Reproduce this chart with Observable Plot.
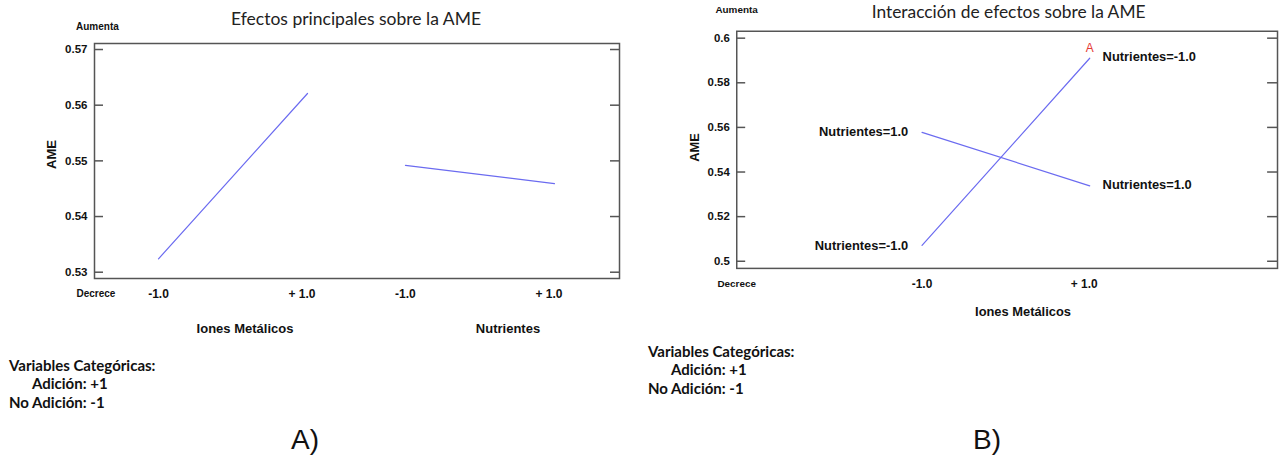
<!DOCTYPE html>
<html><head><meta charset="utf-8">
<script src="https://cdn.jsdelivr.net/npm/d3@7"></script>
<script src="https://cdn.jsdelivr.net/npm/@observablehq/plot@0.6"></script>
<style>
html,body{margin:0;padding:0;background:#fff;overflow:hidden;}
#wrap{position:relative;width:1280px;height:458px;overflow:hidden;background:#fff;}
.panel{position:absolute;top:0;}
.note{position:absolute;font-family:Lato,"Open Sans",sans-serif;font-weight:bold;font-size:15px;line-height:18.7px;color:#111;white-space:pre;}
.note .ind{padding-left:23px;}
.tag{position:absolute;width:100px;text-align:center;font-family:"Liberation Sans",Arial,sans-serif;font-size:28px;line-height:28px;color:#111;}
</style></head><body><div id="wrap"></div>
<script>
// ---- data ----
const factors = ["Iones Metálicos", "Nutrientes"];
const levels = [-1, 1];
const levelLabels = ["-1.0", "+ 1.0"];
const ameIones = [0.5324, 0.5621];
const ameNutrientes = [0.5492, 0.5459];
const interactionSeries = ["Nutrientes=-1.0", "Nutrientes=1.0"];
const ameNutrMinus = [0.5071, 0.5910];
const ameNutrPlus = [0.5578, 0.5338];
const yTicksA = [0.53, 0.54, 0.55, 0.56, 0.57];
const yTicksB = [0.5, 0.52, 0.54, 0.56, 0.58, 0.6];
const titleA = "Efectos principales sobre la AME";
const titleB = "Interacción de efectos sobre la AME";
const yLabel = "AME";
const upLabel = "Aumenta";
const downLabel = "Decrece";
const markerLabel = "A";
const noteLines = ["Variables Categóricas:", "Adición: +1", "No Adición: -1"];
const panelTags = ["A)", "B)"];

// ---- layout / style ----
const SPACING = 3.315;
const LINE = "#6b6bf0";
const FRAME = "#555";
const FONT = '"Liberation Sans", Arial, sans-serif';

// main effects table
const mainData = [];
[ameIones, ameNutrientes].forEach((vals, fi) =>
  levels.forEach((lv, li) => mainData.push({factor: factors[fi], pos: fi * SPACING + lv, level: lv, ame: vals[li]})));
// interaction table
const interData = [];
[ameNutrMinus, ameNutrPlus].forEach((vals, si) =>
  levels.forEach((lv, li) => interData.push({series: interactionSeries[si], level: lv, ame: vals[li]})));

const fmtY = d => String(d);

function yTickMarks(ticks, innerW, rightLen) {
  return [
    Plot.tickY(ticks, {y: d => d, stroke: FRAME, strokeWidth: 1.5, insetRight: innerW - 9}),
    Plot.tickY(ticks, {y: d => d, stroke: FRAME, strokeWidth: 1.5, insetLeft: innerW - rightLen})
  ];
}

// ---- Panel A ----
const A = {w: 640, h: 458, ml: 94, mr: 21, mt: 43, mb: 180};
const plotA = Plot.plot({
  width: A.w, height: A.h,
  marginLeft: A.ml, marginRight: A.mr, marginTop: A.mt, marginBottom: A.mb,
  style: {fontFamily: FONT, fontSize: "12px", color: "#111", background: "transparent", overflow: "visible"},
  x: {domain: [-1.859, 5.188]},
  y: {domain: [0.52887, 0.57108]},
  marks: [
    Plot.frame({stroke: FRAME, strokeWidth: 1.5}),
    ...yTickMarks(yTicksA, A.w - A.ml - A.mr, 9),
    Plot.axisY(yTicksA, {tickSize: 0, tickPadding: 7, tickFormat: fmtY, fontWeight: "bold", fontSize: 11.5, label: null}),
    Plot.axisX(factors.map((f, i) => i * SPACING + levels[0]), {tickSize: 0, tickPadding: 11, tickFormat: () => levelLabels[0], fontWeight: "bold", fontSize: 12, label: null}),
    Plot.axisX(factors.map((f, i) => i * SPACING + levels[1]), {tickSize: 0, tickPadding: 11, tickFormat: () => levelLabels[1], fontWeight: "bold", fontSize: 12, dx: -5.5, label: null}),
    Plot.line(mainData, {x: "pos", y: "ame", z: "factor", stroke: LINE, strokeWidth: 1.2}),
    Plot.text([factors[0]], {x: [0], text: d => d, frameAnchor: "bottom", dy: 50, dx: 12, lineAnchor: "middle", fontWeight: "bold", fontSize: 13}),
    Plot.text([factors[1]], {x: [SPACING], text: d => d, frameAnchor: "bottom", dy: 50, dx: 28, lineAnchor: "middle", fontWeight: "bold", fontSize: 13}),
    Plot.text([yLabel], {frameAnchor: "left", dx: -43, dy: 8, rotate: -90, lineAnchor: "middle", fontWeight: "bold", fontSize: 13}),
    Plot.text([upLabel], {frameAnchor: "top-left", dx: -18.5, dy: -16.6, lineAnchor: "middle", fontWeight: "bold", fontSize: 10}),
    Plot.text([downLabel], {frameAnchor: "bottom-left", dx: -18, dy: 15.3, lineAnchor: "middle", fontWeight: "bold", fontSize: 10}),
    Plot.text([titleA], {frameAnchor: "top", dy: -24.5, dx: -1, lineAnchor: "middle", fontFamily: "Lato", fontSize: 17.5, fill: "#222"})
  ]
});

// ---- Panel B ----
const B = {w: 645, h: 458, ml: 97, mr: 3, mt: 31, mb: 188};
const plotB = Plot.plot({
  width: B.w, height: B.h,
  marginLeft: B.ml, marginRight: B.mr, marginTop: B.mt, marginBottom: B.mb,
  style: {fontFamily: FONT, fontSize: "12px", color: "#111", background: "transparent", overflow: "visible"},
  x: {domain: [-3.21, 3.24]},
  y: {domain: [0.4968, 0.6031]},
  marks: [
    Plot.frame({stroke: FRAME, strokeWidth: 1.5}),
    ...yTickMarks(yTicksB, B.w - B.ml - B.mr, 10),
    Plot.axisY(yTicksB, {tickSize: 0, tickPadding: 7, tickFormat: fmtY, fontWeight: "bold", fontSize: 11.5, label: null}),
    Plot.axisX([levels[0]], {tickSize: 0, tickPadding: 11, tickFormat: () => levelLabels[0], fontWeight: "bold", fontSize: 12, label: null}),
    Plot.axisX([levels[1]], {tickSize: 0, tickPadding: 11, tickFormat: () => levelLabels[1], fontWeight: "bold", fontSize: 12, dx: -5.5, label: null}),
    Plot.line(interData, {x: "level", y: "ame", z: "series", stroke: LINE, strokeWidth: 1.2}),
    Plot.text(interData.filter(d => d.level === levels[0]), {x: "level", y: "ame", text: "series", textAnchor: "end", dx: -14, lineAnchor: "middle", fontWeight: "bold", fontSize: 13}),
    Plot.text(interData.filter(d => d.level === levels[1]), {x: "level", y: "ame", text: "series", textAnchor: "start", dx: 13, dy: -1, lineAnchor: "middle", fontWeight: "bold", fontSize: 13}),
    Plot.text(interData.filter(d => d.level === levels[1] && d.series === interactionSeries[0]), {x: "level", y: "ame", text: () => markerLabel, dy: -10, lineAnchor: "middle", fill: "#e53935", fontSize: 12}),
    Plot.text([factors[0]], {frameAnchor: "bottom", dx: 16, dy: 44.3, lineAnchor: "middle", fontWeight: "bold", fontSize: 13}),
    Plot.text([yLabel], {frameAnchor: "left", dx: -42, dy: 12, rotate: -90, lineAnchor: "middle", fontWeight: "bold", fontSize: 13}),
    Plot.text([upLabel], {frameAnchor: "top-left", dx: -21.5, dy: -21.7, lineAnchor: "middle", fontWeight: "bold", fontSize: 10}),
    Plot.text([downLabel], {frameAnchor: "bottom-left", dx: -19.5, dy: 15.7, lineAnchor: "middle", fontWeight: "bold", fontSize: 10}),
    Plot.text([titleB], {frameAnchor: "top", dy: -19, dx: 1.5, lineAnchor: "middle", fontFamily: "Lato", fontSize: 17.5, fill: "#222"})
  ]
});

const wrap = document.getElementById("wrap");
function place(node, left) {
  const d = document.createElement("div");
  d.className = "panel"; d.style.left = left + "px";
  d.appendChild(node); wrap.appendChild(d);
}
place(plotA, 0);
place(plotB, 640);

function note(left, top) {
  const d = document.createElement("div");
  d.className = "note"; d.style.left = left + "px"; d.style.top = top + "px";
  noteLines.forEach((t, i) => {
    const l = document.createElement("div");
    if (i === 1) l.className = "ind";
    l.textContent = t; d.appendChild(l);
  });
  wrap.appendChild(d);
}
note(9, 355.5);
note(648, 341.5);

function tag(text, cx, top) {
  const d = document.createElement("div");
  d.className = "tag"; d.style.left = (cx - 50) + "px"; d.style.top = top + "px";
  d.textContent = text; wrap.appendChild(d);
}
tag(panelTags[0], 305, 426);
tag(panelTags[1], 987, 426);
</script>
</body></html>
